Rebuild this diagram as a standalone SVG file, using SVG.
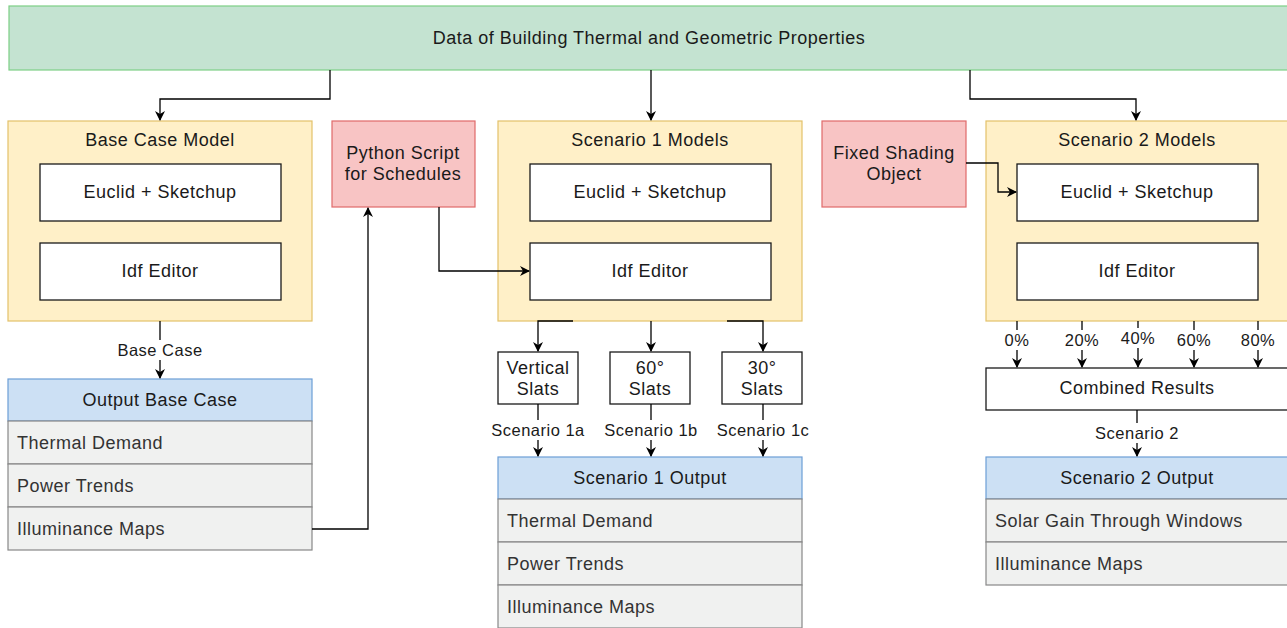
<svg xmlns="http://www.w3.org/2000/svg" width="1287" height="628" viewBox="0 0 1287 628">
<defs>
<marker id="ah" viewBox="0 0 10 10" refX="9" refY="5" markerWidth="10" markerHeight="10" markerUnits="userSpaceOnUse" orient="auto">
<path d="M0,0 L10,5 L0,10 L3,5 Z" fill="#000"/>
</marker>
<style>
text{font-family:"Liberation Sans",Arial,sans-serif;font-size:18px;letter-spacing:0.5px;fill:#1a1a1a;}
.t{text-anchor:middle;dominant-baseline:central;}
.l{dominant-baseline:central;fill:#333;}
.e{font-size:16.5px;}
.green{fill:#c4e3d1;stroke:#7dcf85;stroke-width:1.2;}
.yel{fill:#fff0c8;stroke:#e3c16a;stroke-width:1.2;}
.red{fill:#f8c4c4;stroke:#e06a6a;stroke-width:1.2;}
.wht{fill:#fff;stroke:#1a1a1a;stroke-width:1.3;}
.blue{fill:#cce0f4;stroke:#6c9ed6;stroke-width:1.2;}
.row{fill:#f0f1f0;stroke:#888;stroke-width:1.2;}
.c{fill:none;stroke:#000;stroke-width:1.3;marker-end:url(#ah);}
.lb{fill:#fff;}
</style>
</defs>

<g id="top">
<rect class="green" x="9" y="6" width="1290" height="64"/>
<text class="t" x="649" y="38">Data of Building Thermal and Geometric Properties</text>
</g>

<g id="base-model">
<rect class="yel" x="8" y="121" width="304" height="200"/>
<text class="t" x="160" y="140">Base Case Model</text>
<rect class="wht" x="40" y="164" width="241" height="57"/>
<text class="t" x="160" y="192">Euclid + Sketchup</text>
<rect class="wht" x="40" y="243" width="241" height="57"/>
<text class="t" x="160" y="271">Idf Editor</text>
</g>

<g id="python">
<rect class="red" x="332" y="121" width="143" height="86"/>
<text class="t" x="403" y="153">Python Script</text>
<text class="t" x="403" y="174">for Schedules</text>
</g>

<g id="s1-model">
<rect class="yel" x="498" y="121" width="304" height="200"/>
<text class="t" x="650" y="140">Scenario 1 Models</text>
<rect class="wht" x="530" y="164" width="241" height="57"/>
<text class="t" x="650" y="192">Euclid + Sketchup</text>
<rect class="wht" x="530" y="243" width="241" height="57"/>
<text class="t" x="650" y="271">Idf Editor</text>
</g>

<g id="fixed">
<rect class="red" x="822" y="121" width="144" height="86"/>
<text class="t" x="894" y="153">Fixed Shading</text>
<text class="t" x="894" y="174">Object</text>
</g>

<g id="s2-model">
<rect class="yel" x="986" y="121" width="304" height="200"/>
<text class="t" x="1137" y="140">Scenario 2 Models</text>
<rect class="wht" x="1017" y="164" width="241" height="57"/>
<text class="t" x="1137" y="192">Euclid + Sketchup</text>
<rect class="wht" x="1017" y="243" width="241" height="57"/>
<text class="t" x="1137" y="271">Idf Editor</text>
</g>

<g id="slat-v">
<rect class="wht" x="498" y="352" width="80" height="52"/>
<text class="t" x="538" y="368">Vertical</text>
<text class="t" x="538" y="389">Slats</text>
</g>
<g id="slat-60">
<rect class="wht" x="610" y="352" width="80" height="52"/>
<text class="t" x="650" y="368">60°</text>
<text class="t" x="650" y="389">Slats</text>
</g>
<g id="slat-30">
<rect class="wht" x="722" y="352" width="80" height="52"/>
<text class="t" x="762" y="368">30°</text>
<text class="t" x="762" y="389">Slats</text>
</g>

<g id="combined">
<rect class="wht" x="986" y="368" width="304" height="42"/>
<text class="t" x="1137" y="388">Combined Results</text>
</g>

<g id="out-base">
<rect class="blue" x="8" y="379" width="304" height="42"/>
<text class="t" x="160" y="400">Output Base Case</text>
<rect class="row" x="8" y="421" width="304" height="43"/>
<text class="l" x="17" y="443">Thermal Demand</text>
<rect class="row" x="8" y="464" width="304" height="43"/>
<text class="l" x="17" y="486">Power Trends</text>
<rect class="row" x="8" y="507" width="304" height="43"/>
<text class="l" x="17" y="529">Illuminance Maps</text>
</g>

<g id="out-s1">
<rect class="blue" x="498" y="457" width="304" height="42"/>
<text class="t" x="650" y="478">Scenario 1 Output</text>
<rect class="row" x="498" y="499" width="304" height="43"/>
<text class="l" x="507" y="521">Thermal Demand</text>
<rect class="row" x="498" y="542" width="304" height="43"/>
<text class="l" x="507" y="564">Power Trends</text>
<rect class="row" x="498" y="585" width="304" height="43"/>
<text class="l" x="507" y="607">Illuminance Maps</text>
</g>

<g id="out-s2">
<rect class="blue" x="986" y="457" width="304" height="42"/>
<text class="t" x="1137" y="478">Scenario 2 Output</text>
<rect class="row" x="986" y="499" width="304" height="43"/>
<text class="l" x="995" y="521">Solar Gain Through Windows</text>
<rect class="row" x="986" y="542" width="304" height="43"/>
<text class="l" x="995" y="564">Illuminance Maps</text>
</g>

<g id="connectors">
<path class="c" d="M330,70 V99 H160 V120"/>
<path class="c" d="M651,70 V120"/>
<path class="c" d="M970,70 V99 H1136 V120"/>
<path class="c" d="M439,207 V271 H529"/>
<path class="c" d="M966,163 H998 V192 H1016"/>
<path class="c" d="M312,529 H368 V208"/>
<path class="c" d="M160,321 V378"/>
<rect class="lb" x="115" y="340" width="90" height="20"/>
<text class="t e" x="160" y="350">Base Case</text>
<path class="c" d="M573,321 H538 V351"/>
<path class="c" d="M651,321 V351"/>
<path class="c" d="M727,321 H763 V351"/>
<path class="c" d="M538,404 V456"/>
<path class="c" d="M651,404 V456"/>
<path class="c" d="M763,404 V456"/>
<rect class="lb" x="489" y="420" width="98" height="20"/>
<text class="t e" x="538" y="430">Scenario 1a</text>
<rect class="lb" x="602" y="420" width="98" height="20"/>
<text class="t e" x="651" y="430">Scenario 1b</text>
<rect class="lb" x="714" y="420" width="98" height="20"/>
<text class="t e" x="763" y="430">Scenario 1c</text>
<path class="c" d="M1017,321 V367"/>
<path class="c" d="M1082,321 V367"/>
<path class="c" d="M1138,321 V367"/>
<path class="c" d="M1194,321 V367"/>
<path class="c" d="M1258,321 V367"/>
<rect class="lb" x="1001" y="330" width="32" height="20"/>
<text class="t e" x="1017" y="340">0%</text>
<rect class="lb" x="1061" y="330" width="42" height="20"/>
<text class="t e" x="1082" y="340">20%</text>
<rect class="lb" x="1117" y="328" width="42" height="20"/>
<text class="t e" x="1138" y="338">40%</text>
<rect class="lb" x="1173" y="330" width="42" height="20"/>
<text class="t e" x="1194" y="340">60%</text>
<rect class="lb" x="1237" y="330" width="42" height="20"/>
<text class="t e" x="1258" y="340">80%</text>
<path class="c" d="M1137,410 V456"/>
<rect class="lb" x="1092" y="423" width="90" height="20"/>
<text class="t e" x="1137" y="433">Scenario 2</text>
</g>
</svg>
